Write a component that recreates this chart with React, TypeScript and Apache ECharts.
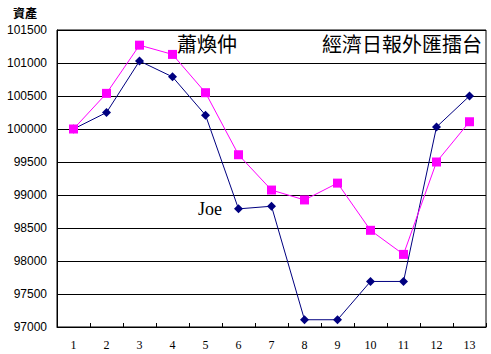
import React, { useEffect, useRef } from "react";
import * as echarts from "echarts";

const categories = ["1", "2", "3", "4", "5", "6", "7", "8", "9", "10", "11", "12", "13"];
const joeValues = [100000, 100250, 101030, 100790, 100210, 98790, 98830, 97110, 97110, 97690, 97690, 100030, 100500];
const xiaoValues = [100000, 100540, 101270, 101130, 100550, 99610, 99075, 98925, 99180, 98465, 98100, 99500, 100110];
const yMin = 97000;
const yMax = 101500;
const yStep = 500;

export default function App() {
  const ref = useRef<HTMLDivElement>(null);
  useEffect(() => {
    if (!ref.current) return;
    const chart = echarts.init(ref.current, null, { renderer: "svg" });
    chart.setOption({
      animation: false,
      backgroundColor: "#ffffff",
      grid: {
        left: 57,
        right: 5,
        top: 30,
        bottom: 27,
        show: true,
        borderColor: "#000000",
        borderWidth: 1,
        backgroundColor: "transparent",
      },
      xAxis: {
        type: "category",
        data: categories,
        boundaryGap: true,
        axisLine: { lineStyle: { color: "#000000", width: 1 } },
        axisTick: { show: true, inside: true, length: 4, interval: 0, lineStyle: { color: "#000000" } },
        axisLabel: {
          color: "#000000",
          fontFamily: "Liberation Serif",
          fontSize: 12,
          margin: 12,
          interval: 0,
        },
      },
      yAxis: {
        type: "value",
        min: yMin,
        max: yMax,
        interval: yStep,
        axisLine: { show: true, lineStyle: { color: "#000000", width: 1 } },
        axisTick: { show: false },
        splitLine: { show: true, lineStyle: { color: "#000000", width: 1 } },
        axisLabel: {
          color: "#000000",
          fontFamily: "Liberation Sans",
          fontSize: 12,
          margin: 10,
          formatter: (v: number) => String(v),
        },
      },
      series: [
        {
          name: "Joe",
          type: "line",
          data: joeValues,
          symbol: "diamond",
          symbolSize: 9,
          lineStyle: { color: "#000080", width: 1 },
          itemStyle: { color: "#000080" },
        },
        {
          name: "蕭煥仲",
          type: "line",
          data: xiaoValues,
          symbol: "rect",
          symbolSize: 9,
          lineStyle: { color: "#ff00ff", width: 1 },
          itemStyle: { color: "#ff00ff" },
        },
      ],
      graphic: [
        {
          type: "text",
          left: 13,
          top: 6,
          style: {
            text: "資產",
            fontSize: 12,
            fontWeight: "bold",
            fill: "#000000",
            fontFamily: "Noto Sans CJK TC",
          },
        },
        {
          type: "text",
          left: 177,
          top: 33,
          style: {
            text: "蕭煥仲",
            fontSize: 20,
            fill: "#000000",
            fontFamily: "Noto Sans CJK TC",
          },
        },
        {
          type: "text",
          left: 322,
          top: 33,
          style: {
            text: "經濟日報外匯擂台",
            fontSize: 20,
            fill: "#000000",
            fontFamily: "Noto Sans CJK TC",
          },
        },
        {
          type: "text",
          left: 198,
          top: 200,
          style: {
            text: "Joe",
            fontSize: 18,
            fill: "#000000",
            fontFamily: "Liberation Serif",
          },
        },
      ],
    });
    return () => chart.dispose();
  }, []);
  return <div ref={ref} style={{ width: 491, height: 354, position: "absolute", left: 0, top: 0 }} />;
}
